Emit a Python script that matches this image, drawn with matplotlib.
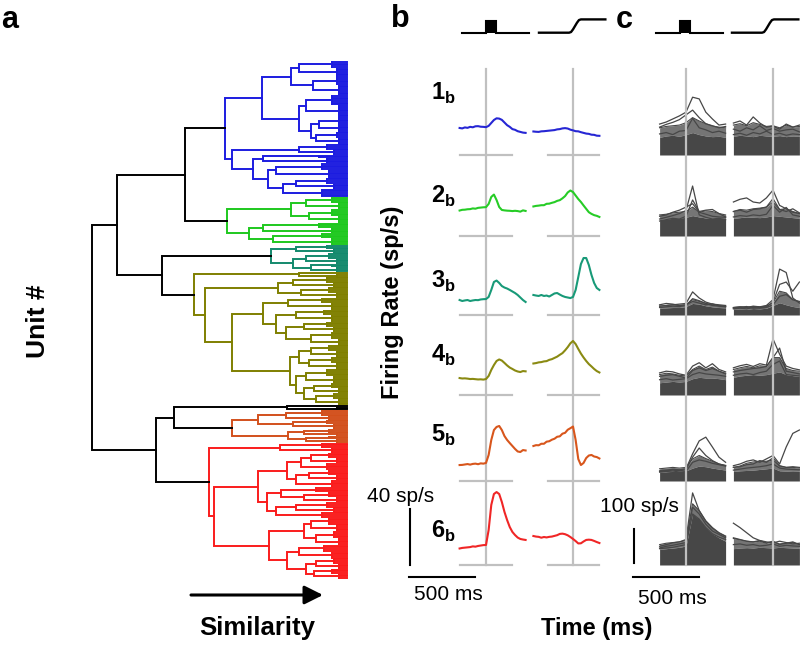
import matplotlib
matplotlib.use('Agg')
import matplotlib.pyplot as plt
from matplotlib.collections import LineCollection

plt.rcParams['font.family'] = ['Liberation Sans', 'DejaVu Sans']
plt.rcParams['mathtext.fontset'] = 'custom'
plt.rcParams['mathtext.bf'] = 'Liberation Sans:bold'
plt.rcParams['mathtext.rm'] = 'Liberation Sans'

# ---------------- data: dendrogram (similarity 0..100, leaves at 100) ----------------
# node = [merge_similarity, left, right]; (similarity, n) = n leaves joined at that level
BLUE = [52,
        [66.7,
         [78, [81, (94, 4), (96, 5)], [86.7, (96, 5), (97, 6)]],
         [81, [84, (94, 6), (97, 7)], [86, [89, (97, 4), (97, 5)], [88, (96, 3), (97, 4)]]]],
        [55,
         [81, (92, 3), (95, 3)],
         [63, [67, (89, 2), (92, 3)],
          [69, [72, (90, 4), (93, 5)], [75, [80, (92, 3), (95, 3)], (90, 5)]]]]]
GREEN = [53,
         [78, [84, (94, 3), (97, 4)], [85, (94, 4), (97, 4)]],
         [61.6, [67, (89, 3), (94, 3)], [71, (90, 3), (94, 4)]]]
TEAL = [70, [80, (92, 2), (95, 3)], [79, [84, (93, 3), (96, 3)], [86, (94, 2), (96, 3)]]]
OLIVE = [40,
         [81, (94, 1), (96, 2)],
         [44.3,
          [73, [79, (92, 3), (95, 3)], [82, (93, 3), (96, 3)]],
          [55,
           [67, [77, (90, 3), (94, 4)],
            [72, [80, (91, 3), (94, 4)], [76, [83, (92, 3), (95, 3)], [86, (94, 4), (97, 4)]]]],
           [77.6, [81, [86, (93, 3), (96, 4)], [85, (94, 3), (96, 4)]],
            [80, [84, (92, 4), (95, 4)], [83, [87, (94, 3), (97, 3)], [88, (95, 3), (97, 4)]]]]]]]
BLACK = [76.5, (92, 1), (96, 2)]
ORANGE = [55, [65, [76, (90, 3), (93, 3)], [79, (92, 2), (95, 3)]],
          [77, [83, (93, 2), (96, 2)], [84, (93, 2), (96, 2)]]]
RED = [46,
       [73.7, (90, 3), (94, 3)],
       [48,
        [65,
         [76.5, [82, [86, (93, 3), (96, 3)], (92, 4)], [80, [85, (93, 3), (96, 3)], (94, 4)]],
         [68.6, [74, (88, 3), [83, (93, 3), (96, 3)]], [72, [80, (92, 3), (95, 3)], (90, 3)]]],
        [69.4,
         [83, [86, (93, 4), (96, 4)], [88, (95, 4), (97, 4)]],
         [76.5, [81, (91, 4), (94, 4)], [84, [88, (95, 3), (97, 3)], [87, (94, 3), (97, 3)]]]]]]
TOP = [0, [9.8, [36.5, 'blue', 'green'], [27.5, 'teal', 'olive']],
       [25, [32, 'black', 'orange'], 'red']]
CLUSTERS = {'blue': BLUE, 'green': GREEN, 'teal': TEAL, 'olive': OLIVE,
            'black': BLACK, 'orange': ORANGE, 'red': RED}
CLUSTER_COLORS = {'blue': '#1c1ce0', 'green': '#1ec81e', 'teal': '#13896d',
                  'olive': '#7f7f00', 'black': '#000000', 'orange': '#d2501c', 'red': '#fa1c1c'}

# ---------------- data: panel b mean firing rates (sp/s) ----------------
T_LEFT = list(range(-200, 301, 20))    # ms from event 1
T_RIGHT = list(range(-300, 201, 20))   # ms from event 2
B1_L = [19.3, 19.0, 19.7, 19.4, 20.1, 19.8, 20.5, 20.6, 20.2, 20.1, 19.9, 20.8, 22.9, 25.0, 26.2, 26.0, 25.1, 23.2, 21.3, 20.1, 18.5, 18.0, 17.0, 16.5, 16.0, 15.8]
B1_R = [16.8, 16.6, 16.5, 16.9, 17.0, 17.2, 17.4, 17.6, 17.8, 18.3, 18.5, 19.0, 19.2, 18.9, 18.1, 17.6, 17.0, 16.9, 16.3, 15.8, 15.3, 15.1, 14.5, 14.4, 13.8, 13.7]
B2_L = [18.2, 18.7, 18.8, 19.1, 19.2, 19.7, 19.5, 20.1, 20.3, 20.5, 20.6, 22.9, 27.9, 29.6, 25.7, 20.7, 18.6, 18.3, 18.1, 18.0, 17.8, 18.0, 17.8, 17.4, 18.3, 17.9]
B2_R = [21.1, 21.5, 21.7, 22.0, 22.0, 23.0, 23.1, 23.7, 24.2, 25.1, 25.6, 26.9, 28.5, 31.1, 32.5, 31.4, 28.9, 26.4, 24.3, 21.8, 19.4, 17.0, 15.8, 14.9, 14.4, 13.6]
B3_L = [10.7, 10.0, 10.4, 10.7, 10.0, 10.4, 10.7, 10.6, 11.1, 11.3, 11.4, 12.9, 17.9, 23.6, 24.6, 22.9, 20.7, 19.6, 18.9, 17.9, 16.8, 15.7, 14.3, 12.5, 10.7, 9.3]
B3_R = [14.3, 13.9, 13.6, 14.3, 13.6, 13.9, 13.2, 14.3, 15.4, 15.7, 14.6, 13.6, 12.9, 12.5, 12.1, 12.9, 17.9, 27.1, 36.4, 40.7, 40.7, 35.7, 28.6, 22.9, 19.3, 17.9]
B4_L = [12.1, 11.8, 11.9, 11.7, 11.4, 11.5, 11.3, 11.1, 11.2, 11.0, 11.4, 13.6, 17.9, 21.4, 24.3, 25.4, 24.6, 22.9, 21.1, 19.6, 18.6, 17.5, 16.8, 16.4, 17.1, 16.9]
B4_R = [22.5, 22.8, 23.3, 23.5, 24.0, 24.2, 25.1, 25.6, 26.5, 27.4, 28.7, 29.9, 31.9, 34.2, 36.9, 38.6, 36.4, 32.9, 29.6, 26.8, 24.3, 22.1, 20.4, 18.6, 17.1, 16.1]
B5_L = [11.4, 11.5, 11.8, 12.1, 11.7, 12.2, 12.4, 12.0, 12.6, 12.4, 12.9, 18.6, 29.3, 36.4, 38.6, 39.3, 36.4, 32.1, 29.3, 27.1, 25.0, 22.9, 21.1, 20.7, 22.1, 21.8]
B5_R = [25.0, 25.6, 25.5, 26.6, 26.6, 28.1, 28.4, 29.5, 30.2, 31.6, 31.9, 33.8, 34.4, 36.6, 37.7, 38.9, 29.3, 15.7, 11.4, 12.9, 16.4, 18.2, 18.6, 17.5, 17.1, 16.1]
B6_L = [11.8, 12.2, 12.4, 12.6, 12.8, 13.3, 13.1, 13.6, 13.9, 14.2, 14.3, 25.0, 42.9, 50.7, 52.1, 50.7, 45.0, 37.9, 32.1, 27.1, 23.6, 21.4, 19.6, 18.6, 18.2, 17.9]
B6_R = [20.7, 20.3, 20.1, 19.5, 20.0, 19.7, 20.1, 20.3, 20.8, 21.3, 22.2, 22.4, 22.0, 21.2, 20.0, 18.6, 17.1, 15.4, 15.5, 16.8, 17.9, 18.1, 17.9, 17.2, 16.4, 15.7]
ROW_NAMES = ['1', '2', '3', '4', '5', '6']
TRACE_COLORS = ['#2626d4', '#26cc26', '#189a78', '#8a8a12', '#d8561c', '#f02626']

# ---------------- data: panel c individual units (sp/s) ----------------
TC_LEFT = list(range(-200, 301, 50))
TC_RIGHT = list(range(-300, 201, 50))
# solid core where nearly all units overlap
C_FILL_L = [[52, 56, 58, 55, 60, 66, 60, 56, 54, 55, 52],
            [48, 50, 52, 53, 55, 60, 56, 53, 52, 53, 50],
            [20, 21, 22, 22, 25, 34, 32, 27, 24, 22, 21],
            [36, 38, 40, 38, 40, 48, 52, 50, 50, 48, 45],
            [26, 27, 28, 29, 30, 38, 44, 42, 38, 35, 32],
            [46, 48, 50, 52, 56, 150, 135, 110, 92, 80, 70]]
C_FILL_R = [[55, 58, 56, 54, 58, 56, 55, 57, 54, 56, 55],
            [52, 54, 56, 55, 54, 56, 60, 58, 56, 54, 52],
            [17, 18, 17, 19, 18, 20, 28, 36, 30, 25, 22],
            [52, 56, 58, 60, 58, 60, 64, 68, 60, 57, 55],
            [28, 30, 31, 32, 34, 36, 38, 30, 29, 28, 29],
            [48, 50, 51, 50, 52, 51, 50, 52, 51, 50, 49]]
# upper edge of the band of many overlapping units
C_BAND_L = [[80, 84, 86, 88, 95, 110, 100, 92, 85, 82, 80],
            [62, 64, 68, 70, 72, 85, 70, 74, 72, 66, 62],
            [26, 28, 30, 28, 30, 45, 40, 34, 30, 28, 26],
            [60, 64, 62, 58, 56, 75, 85, 75, 82, 70, 64],
            [36, 38, 40, 38, 40, 65, 75, 66, 58, 50, 46],
            [60, 64, 66, 68, 72, 180, 160, 128, 108, 94, 84]]
C_BAND_R = [[88, 92, 86, 95, 90, 84, 86, 80, 88, 82, 84],
            [72, 78, 76, 80, 82, 85, 100, 78, 80, 72, 66],
            [22, 24, 23, 25, 24, 26, 36, 70, 65, 45, 38],
            [75, 80, 84, 80, 86, 84, 110, 110, 78, 72, 70],
            [40, 44, 52, 56, 58, 58, 62, 44, 40, 40, 38],
            [78, 74, 70, 68, 70, 64, 68, 62, 64, 66, 60]]
C_UNITS_L = [
    [[91, 97, 106, 115, 126, 170, 165, 126, 106, 88, 91],
     [82, 90, 96, 104, 118, 132, 110, 92, 86, 80, 84],
     [62, 66, 60, 70, 72, 108, 80, 74, 66, 70, 64]],
    [[50, 55, 60, 66, 75, 147, 62, 55, 50, 52, 48],
     [58, 62, 70, 76, 85, 95, 70, 64, 58, 56, 55],
     [44, 48, 52, 50, 58, 106, 72, 76, 78, 66, 56]],
    [[26, 28, 30, 32, 34, 68, 50, 38, 32, 30, 28],
     [22, 24, 26, 25, 28, 48, 42, 34, 28, 26, 24],
     [30, 34, 32, 28, 30, 40, 35, 30, 33, 27, 25]],
    [[65, 70, 68, 62, 58, 85, 95, 80, 92, 75, 68],
     [55, 58, 60, 55, 50, 72, 80, 72, 78, 70, 62],
     [45, 48, 44, 46, 48, 60, 66, 62, 60, 58, 55]],
    [[30, 32, 34, 33, 36, 80, 118, 129, 100, 70, 55],
     [28, 30, 32, 30, 34, 70, 97, 75, 60, 50, 45],
     [26, 28, 26, 30, 28, 55, 62, 58, 52, 48, 44]],
    [[55, 60, 65, 68, 75, 212, 160, 130, 110, 95, 85],
     [50, 55, 58, 62, 66, 170, 150, 120, 100, 90, 80],
     [48, 50, 52, 56, 60, 150, 135, 110, 92, 82, 75]]]
C_UNITS_R = [
    [[94, 100, 88, 112, 94, 82, 85, 76, 91, 82, 88],
     [76, 70, 80, 74, 86, 72, 78, 70, 74, 76, 68],
     [60, 64, 58, 66, 62, 70, 60, 64, 58, 62, 60]],
    [[100, 108, 112, 100, 97, 112, 135, 90, 80, 70, 66],
     [72, 76, 70, 78, 80, 85, 110, 78, 72, 80, 68],
     [56, 60, 58, 62, 60, 64, 90, 70, 84, 62, 58]],
    [[22, 24, 22, 26, 24, 28, 45, 135, 125, 50, 35],
     [20, 22, 25, 20, 22, 24, 38, 90, 97, 70, 97],
     [18, 20, 18, 22, 20, 22, 30, 55, 60, 45, 40]],
    [[80, 86, 90, 84, 92, 88, 165, 120, 85, 78, 74],
     [68, 72, 75, 78, 80, 84, 110, 138, 70, 66, 62],
     [58, 62, 64, 60, 66, 70, 90, 100, 60, 58, 56]],
    [[45, 50, 58, 62, 55, 65, 75, 50, 100, 140, 150],
     [40, 42, 48, 50, 60, 55, 68, 45, 40, 42, 40],
     [32, 35, 38, 40, 42, 45, 50, 38, 35, 34, 33]],
    [[123, 110, 95, 80, 72, 68, 65, 70, 66, 62, 64],
     [80, 75, 70, 68, 72, 65, 70, 60, 64, 68, 60],
     [60, 62, 58, 60, 56, 58, 62, 55, 58, 56, 55]]]

# stimulus icons (time in ms, level 0..1)
PULSE_T = [-182, 0, 0, 76, 76, 326]
PULSE_LVL = [0, 0, 0.88, 0.88, 0, 0]
RAMP_T = [-273, -45, -30, -15, 0, 15, 30, 45, 230]
RAMP_LVL = [0, 0, 0.05, 0.25, 0.5, 0.75, 0.95, 1, 1]

# ---------------- layout ----------------
W, H = 800, 647
fig = plt.figure(figsize=(W / 100, H / 100), dpi=100)


def rect(x0, y0, x1, y1):
    return [x0 / W, 1 - y1 / H, (x1 - x0) / W, (y1 - y0) / H]


def fpt(x, y):
    return x / W, 1 - y / H


# ---------------- panel a: dendrogram ----------------
ax_a = fig.add_axes(rect(92, 61, 347, 579))
ax_a.axis('off')
segs, cols = [], []
counter = [0]


def draw(node, color):
    if isinstance(node, str):
        return draw(CLUSTERS[node], CLUSTER_COLORS[node])
    if isinstance(node, tuple):
        s, n = node
        ys = list(range(counter[0], counter[0] + n))
        counter[0] += n
        if n == 1:
            return ys[0], 100
        for y in ys:
            segs.append([(s, y), (100, y)])
            cols.append(color)
        segs.append([(s, ys[0]), (s, ys[-1])])
        cols.append(color)
        return (ys[0] + ys[-1]) / 2, s
    s, left, right = node
    yl, sl = draw(left, color)
    yr, sr = draw(right, color)
    segs.append([(sl, yl), (s, yl), (s, yr), (sr, yr)])
    cols.append(color)
    return (yl + yr) / 2, s


draw(TOP, '#000000')
n_leaves = counter[0]
ax_a.add_collection(LineCollection(segs, colors=cols, linewidths=1.4,
                                   capstyle='projecting', joinstyle='miter', clip_on=False))
ax_a.set_xlim(0, 100)
ax_a.set_ylim(n_leaves - 0.5, -0.5)

ax_a.annotate('', xy=(323, H - 595), xytext=(191, H - 595), xycoords='figure pixels',
              textcoords='figure pixels',
              arrowprops=dict(arrowstyle='-|>', lw=2.2, color='k', mutation_scale=28,
                              shrinkA=0, shrinkB=0))
fig.text(*fpt(257, 628), 'Similarity', fontsize=18.5, fontweight='bold', ha='center', va='center')
fig.text(*fpt(38, 321), 'Unit #', fontsize=19, fontweight='bold', ha='center', va='center', rotation=90)

# ---------------- panels b, c ----------------
PX_PER_MS = 66 / 500
B_PX_PER_SPS = 56 / 40
C_PX_PER_SPS = 34 / 100
ROW_ZERO_PX = [155, 236, 315, 395, 481, 565]
BASE_PX = 565
GRAY = '#c0c0c0'


def make_panel(x0, x1, event_px, px_per_sps):
    ax = fig.add_axes(rect(x0, 0, x1, H))
    ax.set_xlim((x0 - event_px) / PX_PER_MS, (x1 - event_px) / PX_PER_MS)
    ax.set_ylim((BASE_PX - H) / px_per_sps, BASE_PX / px_per_sps)
    ax.axis('off')
    return ax


def yd(px, px_per_sps):
    return (BASE_PX - px) / px_per_sps


def draw_icons(ax, px_per_sps, pulse_px, ramp_px, event_px):
    base = yd(32.7, px_per_sps)
    hgt = 13.3 / px_per_sps
    sh_p = (pulse_px - event_px) / PX_PER_MS
    sh_r = (ramp_px - event_px) / PX_PER_MS
    px_ = [t + sh_p for t in PULSE_T]
    py_ = [base + l * hgt for l in PULSE_LVL]
    ax.plot(px_, py_, color='k', lw=1.5, solid_joinstyle='miter', clip_on=False)
    ax.fill_between(px_[1:5], base, py_[1:5], color='k', lw=0)
    ax.plot([t + sh_r for t in RAMP_T], [base + l * hgt for l in RAMP_LVL],
            color='k', lw=1.7, clip_on=False)


# panel b
ax_b = make_panel(380, 620, 486, B_PX_PER_SPS)
off_b = (573 - 486) / PX_PER_MS
B_LEFT = [B1_L, B2_L, B3_L, B4_L, B5_L, B6_L]
B_RIGHT = [B1_R, B2_R, B3_R, B4_R, B5_R, B6_R]
top_b = yd(69, B_PX_PER_SPS)
for xv in (0, off_b):
    ax_b.plot([xv, xv], [0, top_b], color=GRAY, lw=1.6, zorder=1)
for i in range(6):
    y0 = yd(ROW_ZERO_PX[i], B_PX_PER_SPS)
    ax_b.plot([-200, 198], [y0, y0], color=GRAY, lw=1.6, zorder=1)
    ax_b.plot([-190 + off_b, 200 + off_b], [y0, y0], color=GRAY, lw=1.6, zorder=1)
    ax_b.plot(T_LEFT, [v + y0 for v in B_LEFT[i]], color=TRACE_COLORS[i], lw=1.5, zorder=3)
    ax_b.plot([t + off_b for t in T_RIGHT], [v + y0 for v in B_RIGHT[i]],
              color=TRACE_COLORS[i], lw=1.5, zorder=3)
draw_icons(ax_b, B_PX_PER_SPS, 486, 575, 486)
# scale bars b
ax_b.plot([(410 - 486) / PX_PER_MS] * 2, [0, 40], color='k', lw=1.5)
ax_b.plot([(409 - 486) / PX_PER_MS, (409 - 486) / PX_PER_MS + 500],
          [yd(577, B_PX_PER_SPS)] * 2, color='k', lw=1.5)

ROW_LABEL_BASE_PX = [100, 203, 288, 362, 442, 538]
for i in range(6):
    fig.text(*fpt(431, ROW_LABEL_BASE_PX[i]), r'$\mathbf{%s}_{\mathbf{b}}$' % ROW_NAMES[i],
             fontsize=17, ha='left', va='baseline')

# panel c
ax_c = make_panel(600, 800, 686, C_PX_PER_SPS)
off_c = (773 - 686) / PX_PER_MS
DARK = '#474747'
for i in range(6):
    y0 = yd(ROW_ZERO_PX[i], C_PX_PER_SPS)
    for tt, fill, band, units, sh in ((TC_LEFT, C_FILL_L[i], C_BAND_L[i], C_UNITS_L[i], 0),
                                      (TC_RIGHT, C_FILL_R[i], C_BAND_R[i], C_UNITS_R[i], off_c)):
        xs = [t + sh for t in tt]
        ax_c.fill_between(xs, [v + y0 for v in fill], [v + y0 for v in band],
                          color=DARK, alpha=0.75, lw=0, zorder=2)
        ax_c.fill_between(xs, y0, [v + y0 for v in fill], color=DARK, lw=0, zorder=2)
        ax_c.plot(xs, [v + y0 for v in band], color=DARK, lw=0.8, zorder=2)
        for u in units:
            ax_c.plot(xs, [v + y0 for v in u], color=DARK, lw=0.9, zorder=2)
top_c = yd(69, C_PX_PER_SPS)
for xv in (0, off_c):
    ax_c.plot([xv, xv], [0, top_c], color=GRAY, lw=1.6, zorder=4)
draw_icons(ax_c, C_PX_PER_SPS, 680, 768, 686)
ax_c.plot([(634 - 686) / PX_PER_MS] * 2, [yd(563, C_PX_PER_SPS), yd(563, C_PX_PER_SPS) + 100],
          color='k', lw=1.5, clip_on=False)
ax_c.plot([(633 - 686) / PX_PER_MS, (633 - 686) / PX_PER_MS + 500],
          [yd(577, C_PX_PER_SPS)] * 2, color='k', lw=1.5, clip_on=False)

# texts
fig.text(*fpt(401, 497), '40 sp/s', fontsize=15, ha='center', va='center')
fig.text(*fpt(448, 595), '500 ms', fontsize=15, ha='center', va='center')
fig.text(*fpt(639, 506), '100 sp/s', fontsize=15, ha='center', va='center')
fig.text(*fpt(672, 598), '500 ms', fontsize=15, ha='center', va='center')
fig.text(*fpt(393, 302), 'Firing Rate (sp/s)', fontsize=17, fontweight='bold',
         ha='center', va='center', rotation=90)
fig.text(*fpt(597, 628), 'Time (ms)', fontsize=17, fontweight='bold', ha='center', va='center')
fig.text(*fpt(1, 28), 'a', fontsize=22, fontweight='bold', ha='left', va='baseline')
fig.text(*fpt(391, 27), 'b', fontsize=22, fontweight='bold', ha='left', va='baseline')
fig.text(*fpt(616, 28), 'c', fontsize=22, fontweight='bold', ha='left', va='baseline')

fig.savefig('out.png', dpi=100)
